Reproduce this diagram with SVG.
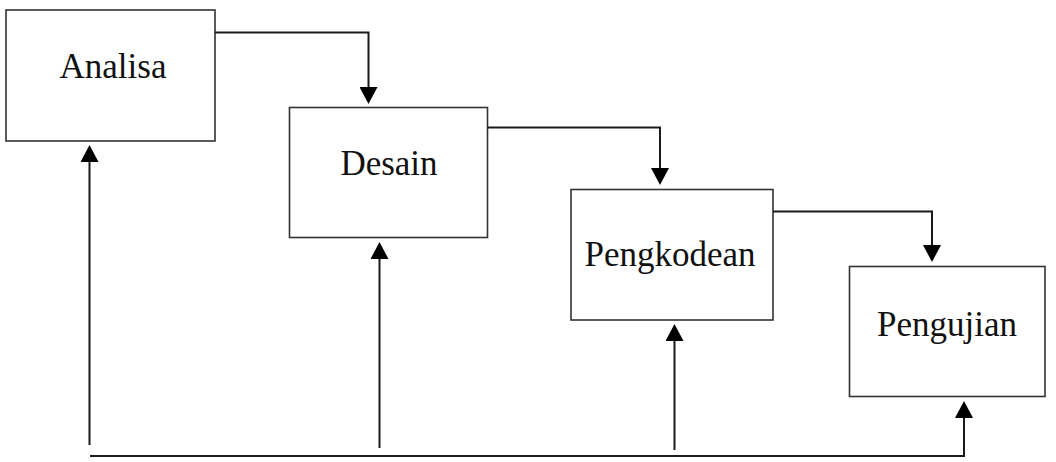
<svg xmlns="http://www.w3.org/2000/svg" width="1056" height="462" viewBox="0 0 1056 462">
  <style>
    .box { fill: #ffffff; stroke: #333333; stroke-width: 1.6; }
    .lbl { font-family: "Liberation Serif", "Times New Roman", serif; font-size: 35px; fill: #111111; text-anchor: middle; }
    .conn { fill: none; stroke: #1a1a1a; stroke-width: 2; }
  </style>
  <defs>
    <marker id="arrow" viewBox="0 0 17 18" refX="0" refY="9" markerWidth="17" markerHeight="18" markerUnits="userSpaceOnUse" orient="auto">
      <path d="M0,0 L17,9 L0,18 Z" fill="#000000"/>
    </marker>
  </defs>
  <rect width="1056" height="462" fill="#ffffff"/>
  <g id="analisa">
    <rect class="box" x="6" y="10" width="209" height="131"/>
    <text class="lbl" x="113" y="78">Analisa</text>
  </g>
  <g id="desain">
    <rect class="box" x="289.5" y="107.5" width="198" height="130"/>
    <text class="lbl" x="389" y="175">Desain</text>
  </g>
  <g id="pengkodean">
    <rect class="box" x="571" y="189.5" width="202" height="130.5"/>
    <text class="lbl" x="670" y="266">Pengkodean</text>
  </g>
  <g id="pengujian">
    <rect class="box" x="849.5" y="266.5" width="195.5" height="130"/>
    <text class="lbl" x="947" y="336">Pengujian</text>
  </g>
  <g id="connectors">
    <path class="conn" d="M215,32.5 H368.5 V87" marker-end="url(#arrow)"/>
    <path class="conn" d="M487.5,127.5 H660 V168" marker-end="url(#arrow)"/>
    <path class="conn" d="M773,211.5 H932 V245" marker-end="url(#arrow)"/>
    <path class="conn" d="M89.5,445 V162" marker-end="url(#arrow)"/>
    <path class="conn" d="M379.5,448 V259" marker-end="url(#arrow)"/>
    <path class="conn" d="M674.5,450 V341" marker-end="url(#arrow)"/>
    <path class="conn" d="M90,456 H964 V418" marker-end="url(#arrow)"/>
  </g>
</svg>
